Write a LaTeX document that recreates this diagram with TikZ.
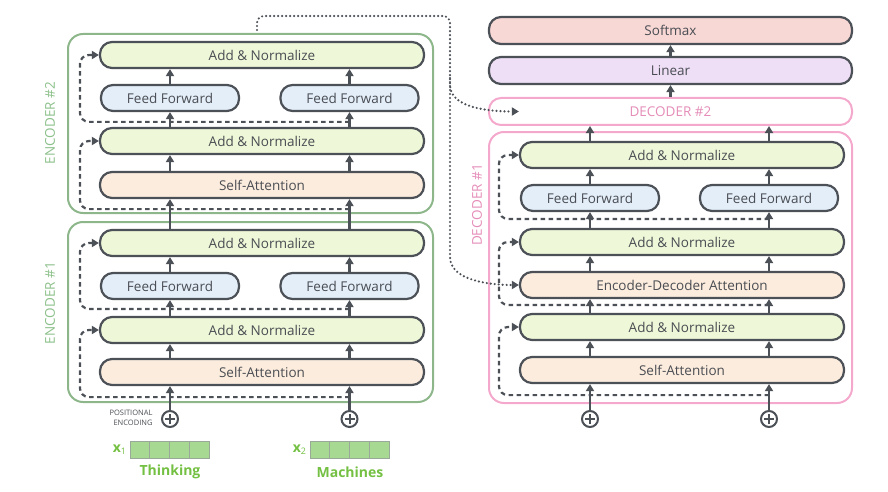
\documentclass[tikz,border=0pt]{standalone}
\usepackage{fontspec}
\setmainfont{Open Sans}
\usetikzlibrary{calc}
\usetikzlibrary{arrows.meta}
\definecolor{dGray}{HTML}{4C5057}
\definecolor{dText}{HTML}{4A4D53}
\definecolor{dNorm}{HTML}{EEF7D7}
\definecolor{dFeed}{HTML}{E4EEF9}
\definecolor{dAttn}{HTML}{FCECDD}
\definecolor{dSoft}{HTML}{F7D8D5}
\definecolor{dLin}{HTML}{EEDEF6}
\definecolor{dEnc}{HTML}{8DB78B}
\definecolor{dEncText}{HTML}{8CC08A}
\definecolor{dDec}{HTML}{F4A9CC}
\definecolor{dDecText}{HTML}{E58DB8}
\definecolor{dWord}{HTML}{74C043}
\definecolor{dCell}{HTML}{A7D992}
\definecolor{dCellLine}{HTML}{9AA89A}
\tikzset{
    block/.style={
            draw=dGray,
            fill={#1},
            line width=2.2pt,
            rounded corners=12pt,
            minimum height=26pt,
            inner sep=0pt, % width set by wide/half
            text=dText,
            font=\fontsize{13.5}{15}\selectfont
        },
    block/.default={dNorm},
    wide/.style={
            minimum width=324pt
        },
    half/.style={
            minimum width=138pt
        },
    frame/.style={
            draw={#1},
            line width=2pt,
            rounded corners=15pt,
            inner sep=0pt
        },
    frame/.default={dEnc},
    tag/.style={
            rotate=90,
            text={#1},
            font=\fontsize{13.5}{15}\selectfont
        },
    tag/.default={dEncText}
}
\tikzset{
    flow/.style={
            draw=dGray,
            line width=2.2pt,
            -{Triangle[length=7pt,width=8pt]}
        },
    resid/.style={
            flow,
            dash pattern=on 4.5pt off 3.5pt,
            rounded corners=9pt
        },
    link/.style={
            flow,
            line width=2.4pt,
            line cap=round,
            dash pattern=on 0pt off 4pt,
            rounded corners=7pt
        },
    pluscirc/.style={
            circle,
            draw=dGray,
            fill=white,
            line width=2pt,
            inner sep=0pt,
            minimum size=16pt,
            path picture={
                    \draw[dGray, line width=2pt]
                    ([xshift=-5pt]path picture bounding box.center) -- ([xshift=5pt]path picture bounding box.center)
                    ([yshift=-5pt]path picture bounding box.center) -- ([yshift=5pt]path picture bounding box.center);
                }
        },
    cell/.style={
            draw=dCellLine,
            fill=dCell,
            line width=0.8pt,
            inner sep=0pt,
            minimum width=19.75pt,
            minimum height=17pt
        },
    word/.style={
            text=dWord,
            font=\fontsize{14}{15}\selectfont\bfseries
        }
}

\begin{document}
\begin{tikzpicture}[
        x=1pt,
        y=-1pt,
    ]
    \useasboundingbox (0,0) rectangle (888,492);
    % frames
    \node[frame, minimum width=365pt, minimum height=179pt] (enc2) at (250.5,123.5) {};
    \node[frame, minimum width=365pt, minimum height=180pt] (enc1) at (250.5,312) {};
    \node[frame=dDec, minimum width=363pt, minimum height=271pt] (dec1) at (670.5,267.5) {};
    \node[tag] (enc2tag) at (50,123) {ENCODER \#2};
    \node[tag] (enc1tag) at (50,303) {ENCODER \#1};
    \node[tag=dDecText] (dec1tag) at (477,205) {DECODER \#1};
    % encoder #2
    \node[block=dNorm, wide] (e2an2) at (262,55) {Add \& Normalize};
    \node[block=dFeed, half] (e2ffa) at (170,98) {Feed Forward};
    \node[block=dFeed, half] (e2ffb) at (349.5,98) {Feed Forward};
    \node[block=dNorm, wide] (e2an1) at (262,141) {Add \& Normalize};
    \node[block=dAttn, wide] (e2sa) at (262,185) {Self-Attention};
    % encoder #1
    \node[block=dNorm, wide] (e1an2) at (262,243) {Add \& Normalize};
    \node[block=dFeed, half] (e1ffa) at (170,286) {Feed Forward};
    \node[block=dFeed, half] (e1ffb) at (349.5,286) {Feed Forward};
    \node[block=dNorm, wide] (e1an1) at (262,330) {Add \& Normalize};
    \node[block=dAttn, wide] (e1sa) at (262,372) {Self-Attention};
    % decoder top
    \node[block=dSoft, minimum width=363pt, minimum height=27pt] (softmax) at (670.5,30.5) {Softmax};
    \node[block=dLin, minimum width=363pt, minimum height=27pt] (linear) at (670.5,70.5) {Linear};
    \node[block=white, draw=dDec, line width=2pt, text=dDecText, minimum width=363pt, minimum height=27pt] (dec2) at (670.5,111.5) {DECODER \#2};
    % decoder #1
    \node[block=dNorm, wide] (d1an3) at (682,155) {Add \& Normalize};
    \node[block=dFeed, half] (d1ffa) at (590,198) {Feed Forward};
    \node[block=dFeed, half] (d1ffb) at (769,198) {Feed Forward};
    \node[block=dNorm, wide] (d1an2) at (682,242) {Add \& Normalize};
    \node[block=dAttn, wide] (d1eda) at (682,285) {Encoder-Decoder Attention};
    \node[block=dNorm, wide] (d1an1) at (682,327) {Add \& Normalize};
    \node[block=dAttn, wide] (d1sa) at (682,370) {Self-Attention};
    % residual paths
    \draw[resid] ($(e1ffb |- e1sa.south)+(0,11)$) -- ($(e1sa.south west)+(-19,11)$) -- ($(e1an1.west)+(-19,0)$) -- (e1an1.west);
    \draw[resid] ($(e1ffb |- e1an1.north)+(0,-7)$) -- ($(e1an1.north west)+(-19,-7)$) -- ($(e1an2.west)+(-19,0)$) -- (e1an2.west);
    \draw[resid] ($(e2ffb |- e2sa.south)+(0,10)$) -- ($(e2sa.south west)+(-19,10)$) -- ($(e2an1.west)+(-19,0)$) -- (e2an1.west);
    \draw[resid] ($(e2ffb |- e2an1.north)+(0,-5)$) -- ($(e2an1.north west)+(-19,-5)$) -- ($(e2an2.west)+(-19,0)$) -- (e2an2.west);
    \draw[resid] ($(d1ffb |- d1sa.south)+(0,11)$) -- ($(d1sa.south west)+(-20,11)$) -- ($(d1an1.west)+(-20,0)$) -- (d1an1.west);
    \draw[resid] ($(d1ffb |- d1an1.north)+(0,-8)$) -- ($(d1an1.north west)+(-20,-8)$) -- ($(d1an2.west)+(-20,0)$) -- (d1an2.west);
    \draw[resid] ($(d1ffb |- d1an2.north)+(0,-9)$) -- ($(d1an2.north west)+(-20,-9)$) -- ($(d1an3.west)+(-20,0)$) -- (d1an3.west);
    % positional encoding
    \node[pluscirc] (pe1) at (170,419) {};
    \node[pluscirc] (pe2) at (349.5,419) {};
    \node[pluscirc] (pd1) at (590,419) {};
    \node[pluscirc] (pd2) at (769,419) {};
    \node[align=right, anchor=east, text=dText, font=\fontsize{7.5}{9.5}\selectfont] (poslbl) at (156,418) {POSITIONAL\\ENCODING};
    % upward flow, two columns
    \foreach \f in {a,b} {
            \draw[flow] (e1ff\f |- e1sa.north) -- (e1ff\f |- e1an1.south);
            \draw[flow] (e1ff\f |- e1an1.north) -- (e1ff\f);
            \draw[flow] (e1ff\f) -- (e1ff\f |- e1an2.south);
            \draw[flow] (e1ff\f |- e1an2.north) -- (e1ff\f |- e2sa.south);
            \draw[flow] (e2ff\f |- e2sa.north) -- (e2ff\f |- e2an1.south);
            \draw[flow] (e2ff\f |- e2an1.north) -- (e2ff\f);
            \draw[flow] (e2ff\f) -- (e2ff\f |- e2an2.south);
            \draw[flow] (d1ff\f |- d1sa.north) -- (d1ff\f |- d1an1.south);
            \draw[flow] (d1ff\f |- d1an1.north) -- (d1ff\f |- d1eda.south);
            \draw[flow] (d1ff\f |- d1eda.north) -- (d1ff\f |- d1an2.south);
            \draw[flow] (d1ff\f |- d1an2.north) -- (d1ff\f);
            \draw[flow] (d1ff\f) -- (d1ff\f |- d1an3.south);
            \draw[flow] (d1ff\f |- d1an3.north) -- (d1ff\f |- dec2.south);
        }
    \draw[flow] (pe1) -- (pe1 |- e1sa.south);
    \draw[flow] (pe2) -- (pe2 |- e1sa.south);
    \draw[flow] (pd1) -- (pd1 |- d1sa.south);
    \draw[flow] (pd2) -- (pd2 |- d1sa.south);
    \draw[flow] (dec2) -- (linear);
    \draw[flow] (linear) -- (softmax);
    % encoder output to decoders
    \coordinate (encout) at (257,30);
    \coordinate (split) at (450,78);
    \coordinate (drop) at (450,250);
    \draw[link] (encout) -- (257,16) -- (450,16) -- (split)
    to[out=-90,in=180] (d1an3.west |- dec2);
    \draw[link] (split) -- (drop)
    to[out=-90,in=180] (d1eda.west);
    % input words
    \foreach \i in {0,...,3} {
            \node[cell] (xa\i) at (139.9+\i*19.75,449.5) {};
            \node[cell] (xb\i) at (319.9+\i*19.75,449.5) {};
        }
    \node[word, anchor=east] (xalbl) at (xa0.west) {x\raisebox{-1.5pt}{\fontsize{9}{9}\selectfont\mdseries 1}};
    \node[word, anchor=east] (xblbl) at (xb0.west) {x\raisebox{-1.5pt}{\fontsize{9}{9}\selectfont\mdseries 2}};
    \node[word] (thinking) at (170,472) {Thinking};
    \node[word] (machines) at (350,472) {Machines};
\end{tikzpicture}
\end{document}
